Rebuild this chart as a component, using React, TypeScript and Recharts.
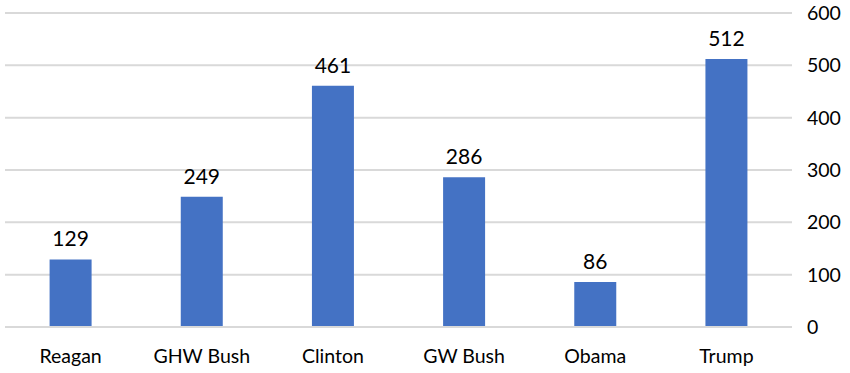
import React from "react";
import { BarChart, Bar, XAxis, YAxis, CartesianGrid, LabelList } from "recharts";

if (typeof document !== "undefined") {
  document.body.style.margin = "0";
}

const presidents = ["Reagan", "GHW Bush", "Clinton", "GW Bush", "Obama", "Trump"];
const values = [129, 249, 461, 286, 86, 512];
const yTicks = [0, 100, 200, 300, 400, 500, 600];

const data = presidents.map((name, i) => ({ name, value: values[i] }));

const FONT = "Lato, 'Open Sans', sans-serif";

export default function App() {
  return (
    <div style={{ width: 850, height: 373, background: "#fff" }}>
      <BarChart
        width={850}
        height={373}
        data={data}
        margin={{ top: 13, right: 0, bottom: 0, left: 5 }}
        barCategoryGap="34%"
      >
        <CartesianGrid vertical={false} stroke="#d9d9d9" strokeWidth={2} />
        <XAxis
          dataKey="name"
          axisLine={{ stroke: "#d9d9d9", strokeWidth: 2 }}
          tickLine={false}
          tickSize={0}
          tickMargin={22}
          height={46}
          interval={0}
          tick={{ fill: "#000", fontSize: 19.5, fontFamily: FONT }}
        />
        <YAxis
          orientation="right"
          domain={[0, 600]}
          ticks={yTicks}
          axisLine={false}
          tickLine={false}
          tickSize={0}
          tickMargin={15}
          width={58}
          tick={{ fill: "#000", fontSize: 19.5, fontFamily: FONT, textAnchor: "start" }}
        />
        <Bar dataKey="value" fill="#4472C4" isAnimationActive={false}>
          <LabelList
            dataKey="value"
            position="top"
            offset={13}
            fill="#000"
            fontSize={21}
            fontFamily={FONT}
          />
        </Bar>
      </BarChart>
    </div>
  );
}
